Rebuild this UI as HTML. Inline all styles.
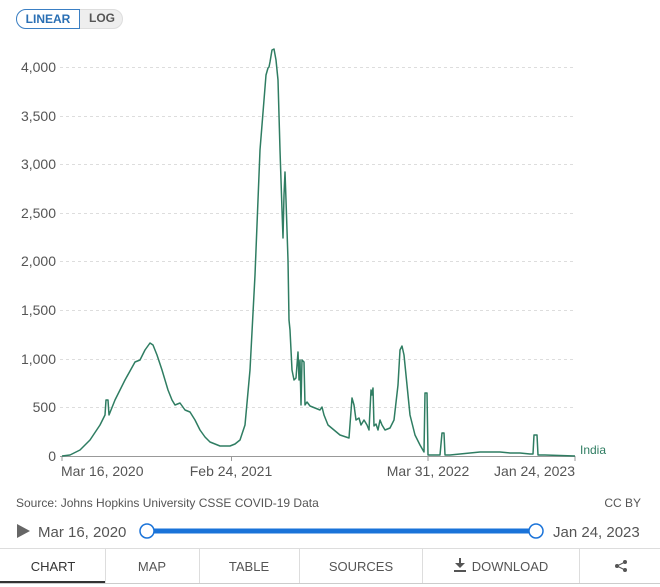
<!DOCTYPE html>
<html><head><meta charset="utf-8"><style>
body{margin:0;width:660px;height:587px;background:#fff;font-family:"Liberation Sans",sans-serif;overflow:hidden;position:relative}
.t{position:absolute;white-space:nowrap}
</style></head><body>
<div class="t" style="left:16px;top:9px;width:107px;height:20px;border-radius:11px;background:#eeeeee;border:1px solid #ddd;box-sizing:border-box"></div>
<div class="t" style="left:16px;top:9px;width:64px;height:20px;border-radius:11px 0 0 11px;background:#fff;border:1px solid #3a7fc4;box-sizing:border-box;color:#2a6fb4;font-size:12px;font-weight:bold;line-height:18px;text-align:center">LINEAR</div>
<div class="t" style="left:89px;top:11px;font-size:12px;color:#555;font-weight:bold">LOG</div>
<svg width="660" height="587" style="position:absolute;left:0;top:0">
<g stroke="#ddd" stroke-dasharray="3,3" stroke-width="1">
<line x1="60" x2="575" y1="67.5" y2="67.5"/><line x1="60" x2="575" y1="116.5" y2="116.5"/><line x1="60" x2="575" y1="164.5" y2="164.5"/><line x1="60" x2="575" y1="213.5" y2="213.5"/><line x1="60" x2="575" y1="261.5" y2="261.5"/><line x1="60" x2="575" y1="310.5" y2="310.5"/><line x1="60" x2="575" y1="359.5" y2="359.5"/><line x1="60" x2="575" y1="407.5" y2="407.5"/>
</g>
<line x1="60" x2="575" y1="456.5" y2="456.5" stroke="#999"/>
<g stroke="#999"><line x1="62" x2="62" y1="456" y2="461"/><line x1="231.5" x2="231.5" y1="456" y2="461"/><line x1="428" x2="428" y1="456" y2="461"/><line x1="575" x2="575" y1="456" y2="461"/></g>
<g font-size="14" fill="#555" text-anchor="end" font-family="Liberation Sans">
<text x="56" y="72">4,000</text><text x="56" y="121">3,500</text><text x="56" y="169">3,000</text><text x="56" y="218">2,500</text><text x="56" y="266">2,000</text><text x="56" y="315">1,500</text><text x="56" y="364">1,000</text><text x="56" y="412">500</text><text x="56" y="461">0</text>
</g>
<g font-size="14" fill="#555" font-family="Liberation Sans">
<text x="61" y="476">Mar 16, 2020</text><text x="231" y="476" text-anchor="middle">Feb 24, 2021</text><text x="428" y="476" text-anchor="middle">Mar 31, 2022</text><text x="575" y="476" text-anchor="end">Jan 24, 2023</text>
</g>
<polyline fill="none" stroke="#2f7d62" stroke-width="1.5" stroke-linejoin="round" points="62,456 70,455 80,450 90,440 100,425 105,415 106,400 108,400 109,415 115,400 125,380 135,362 140,360 145,350 150,343 153,345 157,355 162,370 168,390 172,400 175,405 180,403 185,410 190,412 195,420 200,430 205,437 210,442 220,446 230,446 235,444 240,440 245,425 250,370 255,275 260,150 264,100 266,75 268,68 269,67 270,62 272,50 274,49 276,60 278,80 280,150 282,210 283,238 284,195 285,172 286,200 288,260 289,320 290,330 292,370 294,380 296,378 298,352 299,380 300,360 301,405 302,360 304,362 305,405 307,402 310,406 320,410 322,407 324,415 328,425 334,430 340,435 349,438 352,398 354,405 356,420 359,418 361,425 364,420 367,425 369,430 371,390 372,395 373,388 374,426 376,424 378,430 380,420 382,425 385,430 390,428 394,420 398,385 400,350 402,346 404,355 407,385 410,415 415,435 420,445 424,452 425,393 427,393 428,455 432,455 440,455 442,433 444,433 445,455 450,455 460,454 470,453 480,452 490,452 500,452 510,453 520,453 530,454 533,454 534,435 537,435 538,455 545,455 575,456"/>
<text x="580" y="454" font-size="12" fill="#2f7d62" font-family="Liberation Sans">India</text>
<text x="16" y="507" font-size="12" fill="#555" font-family="Liberation Sans">Source: Johns Hopkins University CSSE COVID-19 Data</text>
<text x="641" y="507" font-size="12" fill="#555" text-anchor="end" font-family="Liberation Sans">CC BY</text>
<polygon points="17,524 17,538 30,531" fill="#666"/>
<text x="38" y="537" font-size="15" fill="#555" font-family="Liberation Sans">Mar 16, 2020</text>
<line x1="147" x2="536" y1="531" y2="531" stroke="#1a73d9" stroke-width="5"/>
<circle cx="147" cy="531" r="7" fill="#fff" stroke="#1a73d9" stroke-width="1.5"/>
<circle cx="536" cy="531" r="7" fill="#fff" stroke="#1a73d9" stroke-width="1.5"/>
<text x="553" y="537" font-size="15" fill="#555" font-family="Liberation Sans">Jan 24, 2023</text>
<line x1="0" x2="660" y1="548.5" y2="548.5" stroke="#ddd"/>
<line x1="0" x2="660" y1="583.5" y2="583.5" stroke="#ccc"/>
<g stroke="#ddd"><line x1="105.5" x2="105.5" y1="548" y2="583"/><line x1="199.5" x2="199.5" y1="548" y2="583"/><line x1="299.5" x2="299.5" y1="548" y2="583"/><line x1="422.5" x2="422.5" y1="548" y2="583"/><line x1="579.5" x2="579.5" y1="548" y2="583"/></g>
<line x1="0" x2="105" y1="582" y2="582" stroke="#333" stroke-width="2"/>
<g font-size="13" fill="#555" text-anchor="middle" font-family="Liberation Sans">
<text x="53" y="571" fill="#333">CHART</text><text x="152" y="571">MAP</text><text x="249" y="571">TABLE</text><text x="361" y="571">SOURCES</text><text x="510" y="571">DOWNLOAD</text>
</g>
<g fill="#555"><rect x="459" y="558" width="2" height="8"/><polygon points="455,563 465,563 460,568"/><rect x="454" y="570" width="12" height="2"/></g>
<g fill="#555"><circle cx="625" cy="562" r="2"/><circle cx="617" cy="566" r="2"/><circle cx="625" cy="570" r="2"/><polyline points="625,562 617,566 625,570" fill="none" stroke="#555"/></g>
</svg>
</body></html>
